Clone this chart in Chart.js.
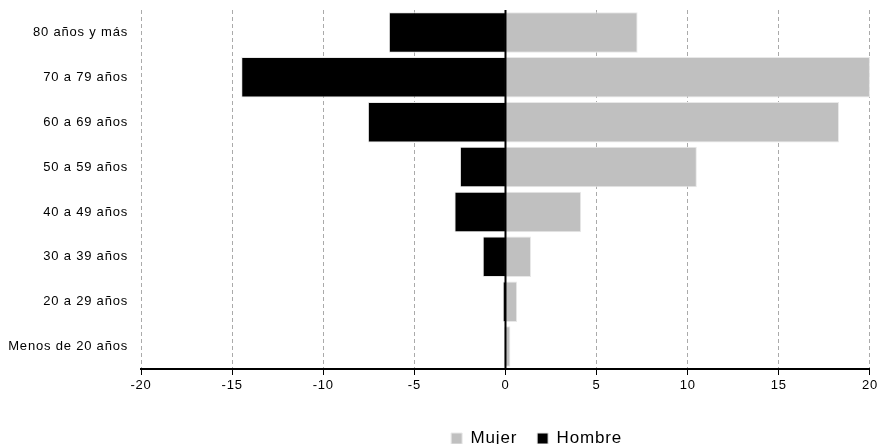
<!DOCTYPE html>
<html lang="es">
<head>
    <meta charset="UTF-8">
    <title>Pirámide por edad</title>
    <script src="https://cdn.jsdelivr.net/npm/chart.js"></script>
    <style>
        html, body { margin: 0; padding: 0; background: #ffffff; overflow: hidden; }
        .wrap { width: 881px; height: 444px; overflow: hidden; }
    </style>
</head>
<body>
    <div class="wrap">
        <!-- canvas a bit taller than the window so the legend sits low like the original -->
        <canvas id="pyramid" width="881" height="457"></canvas>
    </div>
    <script>
        // age groups, top to bottom
        const ageGroups = ['80 años y más', '70 a 79 años', '60 a 69 años', '50 a 59 años',
                           '40 a 49 años', '30 a 39 años', '20 a 29 años', 'Menos de 20 años'];
        const mujer = [7.25, 20.0, 18.3, 10.5, 4.15, 1.4, 0.64, 0.27];
        const hombre = [-6.4, -14.5, -7.55, -2.5, -2.8, -1.25, -0.15, -0.05];
        const xTicks = [-20, -15, -10, -5, 0, 5, 10, 15, 20];

        // solid black line at zero, on top of the bars
        const zeroLine = {
            id: 'zeroLine',
            afterDatasetsDraw(chart) {
                const x = chart.scales.x.getPixelForValue(0);
                const area = chart.chartArea;
                const ctx = chart.ctx;
                ctx.save();
                ctx.strokeStyle = '#000';
                ctx.lineWidth = 2;
                ctx.beginPath();
                ctx.moveTo(x, area.top);
                ctx.lineTo(x, area.bottom);
                ctx.stroke();
                ctx.restore();
            }
        };

        // the original text is a little loosely spaced
        const spacing = {
            id: 'spacing',
            beforeLayout(chart) { chart.ctx.letterSpacing = '0.8px'; },
            beforeDraw(chart) { chart.ctx.letterSpacing = '0.8px'; }
        };

        // legend in the original sits right of centre
        const legendShift = {
            id: 'legendShift',
            afterLayout(chart) {
                if (chart.legend) {
                    chart.legend.left += 101;
                    chart.legend.right += 101;
                }
            }
        };

        Chart.defaults.font.family = '"Liberation Sans", Arial, sans-serif';
        Chart.defaults.color = '#000';

        new Chart(document.getElementById('pyramid'), {
            type: 'bar',
            data: {
                labels: ageGroups,
                datasets: [
                    {
                        label: 'Mujer',
                        data: mujer,
                        backgroundColor: '#c0c0c0',
                        borderColor: '#e8e8e8',
                        borderWidth: 1
                    },
                    {
                        label: 'Hombre',
                        data: hombre,
                        backgroundColor: '#000000',
                        borderColor: '#e8e8e8',
                        borderWidth: 1
                    }
                ]
            },
            options: {
                indexAxis: 'y',
                responsive: false,
                animation: false,
                layout: { padding: { top: 10, right: 10, left: 0, bottom: 0 } },
                datasets: { bar: { barPercentage: 1, categoryPercentage: 0.9 } },
                plugins: {
                    legend: {
                        position: 'bottom',
                        labels: {
                            boxWidth: 11,
                            boxHeight: 11,
                            padding: 20,
                            font: { size: 17 }
                        }
                    },
                    tooltip: { enabled: false }
                },
                scales: {
                    x: {
                        stacked: true,
                        min: -20,
                        max: 20,
                        afterBuildTicks: (scale) => {
                            scale.ticks = xTicks.map(v => ({ value: v }));
                        },
                        afterFit: (scale) => { scale.height = 41; },
                        grid: {
                            color: (ctx) => ctx.tick && ctx.tick.value === 0 ? 'rgba(0,0,0,0)' : '#aaaaaa',
                            lineWidth: 1,
                            tickColor: '#000',
                            tickLength: 6,
                            tickBorderDash: []
                        },
                        border: { display: true, color: '#000', width: 2, dash: [4, 3] },
                        ticks: { padding: 3, font: { size: 13 }, maxRotation: 0 }
                    },
                    y: {
                        stacked: true,
                        afterFit: (scale) => { scale.width = 141; },
                        // hidden tick marks keep the labels 13px off the plot
                        grid: { display: false, drawTicks: true, tickLength: 13 },
                        border: { display: false },
                        ticks: { padding: 0, font: { size: 13 } }
                    }
                }
            },
            plugins: [spacing, legendShift, zeroLine]
        });
    </script>
</body>
</html>
